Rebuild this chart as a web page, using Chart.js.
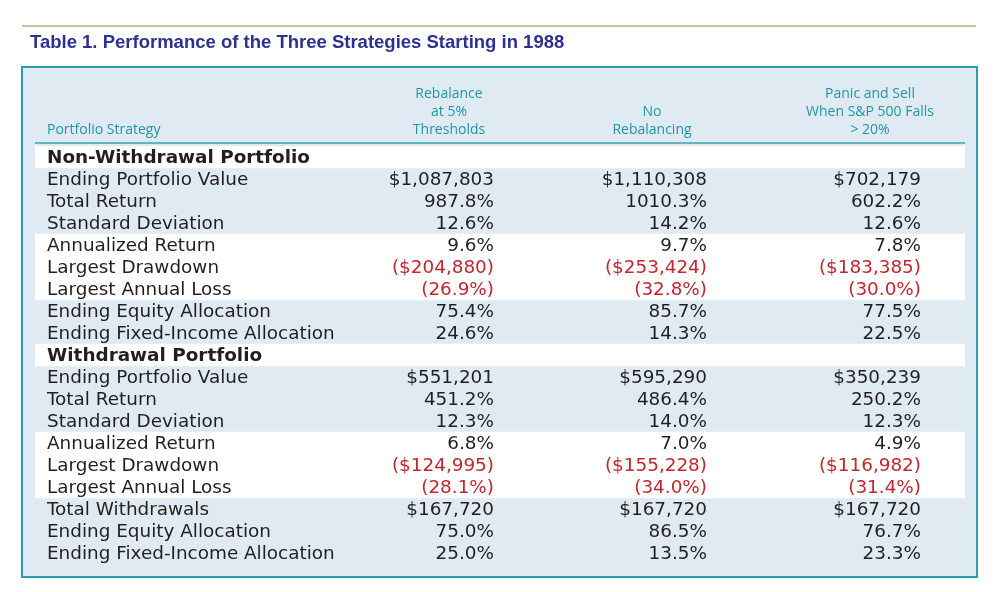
<!DOCTYPE html>
<html>
<head>
<meta charset="utf-8">
<script src="https://cdn.jsdelivr.net/npm/chart.js@4"></script>
<style>
  body { margin: 0; background: #fff; }
  #wrap { width: 1000px; height: 592px; position: relative; }
</style>
</head>
<body>
<div id="wrap"><canvas id="tableChart"></canvas></div>
<script>
var title = 'Table 1. Performance of the Three Strategies Starting in 1988';
var headers = [['Portfolio Strategy'], ['Rebalance', 'at 5%', 'Thresholds'], ['No', 'Rebalancing'], ['Panic and Sell', 'When S&P 500 Falls', '> 20%']];

var rowLabels = [
    'Non-Withdrawal Portfolio',
    'Ending Portfolio Value', 'Total Return', 'Standard Deviation',
    'Annualized Return', 'Largest Drawdown', 'Largest Annual Loss',
    'Ending Equity Allocation', 'Ending Fixed-Income Allocation',
    'Withdrawal Portfolio',
    'Ending Portfolio Value', 'Total Return', 'Standard Deviation',
    'Annualized Return', 'Largest Drawdown', 'Largest Annual Loss',
    'Total Withdrawals', 'Ending Equity Allocation', 'Ending Fixed-Income Allocation'
];
var rebalance = ['', '$1,087,803', '987.8%', '12.6%', '9.6%', '($204,880)', '(26.9%)', '75.4%', '24.6%',
    '', '$551,201', '451.2%', '12.3%', '6.8%', '($124,995)', '(28.1%)', '$167,720', '75.0%', '25.0%'];
var noRebalancing = ['', '$1,110,308', '1010.3%', '14.2%', '9.7%', '($253,424)', '(32.8%)', '85.7%', '14.3%',
    '', '$595,290', '486.4%', '14.0%', '7.0%', '($155,228)', '(34.0%)', '$167,720', '86.5%', '13.5%'];
var panicSell = ['', '$702,179', '602.2%', '12.6%', '7.8%', '($183,385)', '(30.0%)', '77.5%', '22.5%',
    '', '$350,239', '250.2%', '12.3%', '4.9%', '($116,982)', '(31.4%)', '$167,720', '76.7%', '23.3%'];
var sectionRows = [0, 9];
var whiteRows = [0, 4, 5, 6, 9, 13, 14, 15];

var bands = rowLabels.map(function (l, i) { return whiteRows.indexOf(i) >= 0 ? [0, 1] : null; });
var valueCols = [rebalance, noRebalancing, panicSell];
var colRight = [494, 707, 921];

var tablePlugin = {
    id: 'tablePlugin',
    beforeDraw: function (chart) {
        var c = chart.ctx;
        c.save();
        c.strokeStyle = '#c3c79a'; c.lineWidth = 2;
        c.beginPath(); c.moveTo(22, 26); c.lineTo(976, 26); c.stroke();
        c.fillStyle = '#2e3192';
        c.font = 'bold 18.5px "Liberation Sans"';
        c.textBaseline = 'middle';
        c.fillText(title, 30, 43);
        c.fillStyle = '#dfeaf2';
        c.fillRect(22, 67, 955, 510);
        c.strokeStyle = '#2a9db0'; c.lineWidth = 2;
        c.strokeRect(22, 67, 955, 510);
        c.strokeStyle = '#3aa5b5'; c.lineWidth = 1.5;
        c.beginPath(); c.moveTo(35, 143); c.lineTo(965, 143); c.stroke();
        c.fillStyle = '#1f97a8';
        c.font = '14px "Open Sans"';
        c.textAlign = 'left';
        c.fillText(headers[0][0], 47, 130);
        c.textAlign = 'center';
        var centers = [449, 652, 870];
        for (var h = 1; h < headers.length; h++) {
            var lines = headers[h];
            for (var k = 0; k < lines.length; k++) {
                c.fillText(lines[k], centers[h - 1], 130 - (lines.length - 1 - k) * 18);
            }
        }
        c.restore();
    },
    afterDatasetsDraw: function (chart) {
        var c = chart.ctx;
        var y = chart.scales.y;
        c.save();
        c.textBaseline = 'middle';
        rowLabels.forEach(function (label, i) {
            var py = y.getPixelForValue(i) + 1.5;
            var section = sectionRows.indexOf(i) >= 0;
            c.fillStyle = '#231f20';
            c.textAlign = 'left';
            c.font = (section ? 'bold ' : '') + '18.4px "DejaVu Sans"';
            c.fillText(label, 47, py);
            c.font = '18.4px "DejaVu Sans"';
            c.textAlign = 'right';
            valueCols.forEach(function (col, j) {
                var v = col[i];
                c.fillStyle = v.charAt(0) === '(' ? '#c1272d' : '#231f20';
                c.fillText(v, colRight[j], py);
            });
        });
        c.restore();
    }
};

var ctx = document.getElementById('tableChart').getContext('2d');
var tableChart = new Chart(ctx, {
    type: 'bar',
    data: {
        labels: rowLabels,
        datasets: [{
            data: bands,
            backgroundColor: '#ffffff',
            borderWidth: 0,
            barPercentage: 1,
            categoryPercentage: 1
        }]
    },
    options: {
        indexAxis: 'y',
        responsive: true,
        maintainAspectRatio: false,
        animation: false,
        layout: { padding: { top: 146, bottom: 28, left: 35, right: 35 } },
        plugins: { legend: { display: false }, tooltip: { enabled: false } },
        scales: {
            x: { display: false, min: 0, max: 1 },
            y: { display: false, grid: { display: false } }
        }
    },
    plugins: [tablePlugin]
});
</script>
</body>
</html>
